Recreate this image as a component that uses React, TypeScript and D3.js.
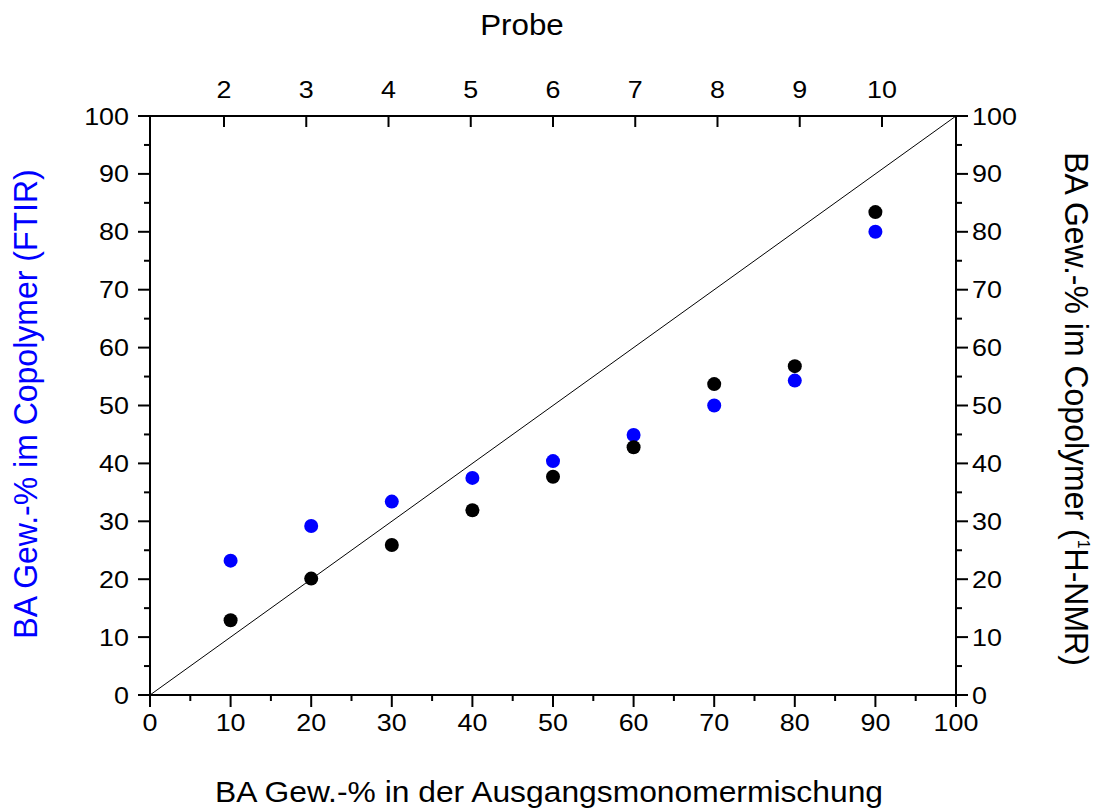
import React from "react";
import * as d3 from "d3";

const feedBA = [10, 20, 30, 40, 50, 60, 70, 80, 90];
const ftirBA = [23.2, 29.2, 33.4, 37.5, 40.4, 44.9, 50.0, 54.3, 80.0];
const nmrBA = [12.9, 20.1, 25.9, 31.9, 37.7, 42.8, 53.7, 56.8, 83.4];
const probeTicks = [2, 3, 4, 5, 6, 7, 8, 9, 10];
const xTicks = [0, 10, 20, 30, 40, 50, 60, 70, 80, 90, 100];
const yTicks = [0, 10, 20, 30, 40, 50, 60, 70, 80, 90, 100];

const FONT = "'Liberation Sans', Arial, Helvetica, sans-serif";
const TICK_FS = 24;
const SX = 1.12;

export default function App() {
  const L = 150, R = 956, T = 116, B = 695;
  const x = d3.scaleLinear().domain([0, 100]).range([L, R]);
  const y = d3.scaleLinear().domain([0, 100]).range([B, T]);
  const xp = d3.scaleLinear().domain([1.1, 10.9]).range([L, R]);
  const minorX = d3.range(5, 100, 10);
  const minorY = d3.range(5, 100, 10);
  const major = 12, minor = 6;
  const sw = 2;

  const label = (key: string, tx: number, ty: number, text: string, anchor: string) => (
    <g key={key} transform={`translate(${tx},${ty}) scale(${SX},1)`}>
      <text x={0} y={0} textAnchor={anchor} fontSize={TICK_FS} fontFamily={FONT} fill="#000">{text}</text>
    </g>
  );

  return (
    <svg width={1100} height={811} style={{ position: "absolute", left: 0, top: 0, background: "#fff" }}>
      <rect x={0} y={0} width={1100} height={811} fill="#fff" />
      {/* diagonal */}
      <line x1={x(0)} y1={y(0)} x2={x(100)} y2={y(100)} stroke="#000" strokeWidth={1} />
      {/* points */}
      {feedBA.map((v, i) => (
        <circle key={"b" + i} cx={x(v)} cy={y(ftirBA[i])} r={7} fill="#0000ff" />
      ))}
      {feedBA.map((v, i) => (
        <circle key={"k" + i} cx={x(v)} cy={y(nmrBA[i])} r={7} fill="#000" />
      ))}
      {/* frame */}
      <rect x={L} y={T} width={R - L} height={B - T} fill="none" stroke="#000" strokeWidth={sw} />
      {/* bottom ticks */}
      {xTicks.map(t => <line key={"xb" + t} x1={x(t)} x2={x(t)} y1={B} y2={B + major} stroke="#000" strokeWidth={sw} />)}
      {minorX.map(t => <line key={"xbm" + t} x1={x(t)} x2={x(t)} y1={B} y2={B + minor} stroke="#000" strokeWidth={sw} />)}
      {xTicks.map(t => label("xl" + t, x(t), B + 36, String(t), "middle"))}
      {/* left ticks */}
      {yTicks.map(t => <line key={"yl" + t} x1={L - major} x2={L} y1={y(t)} y2={y(t)} stroke="#000" strokeWidth={sw} />)}
      {minorY.map(t => <line key={"ylm" + t} x1={L - minor} x2={L} y1={y(t)} y2={y(t)} stroke="#000" strokeWidth={sw} />)}
      {yTicks.map(t => label("yll" + t, L - 21, y(t) + 8.5, String(t), "end"))}
      {/* right ticks */}
      {yTicks.map(t => <line key={"yr" + t} x1={R} x2={R + major} y1={y(t)} y2={y(t)} stroke="#000" strokeWidth={sw} />)}
      {minorY.map(t => <line key={"yrm" + t} x1={R} x2={R + minor} y1={y(t)} y2={y(t)} stroke="#000" strokeWidth={sw} />)}
      {yTicks.map(t => label("yrl" + t, R + 16, y(t) + 8.5, String(t), "start"))}
      {/* top probe ticks */}
      {probeTicks.map(t => <line key={"pt" + t} x1={xp(t)} x2={xp(t)} y1={T} y2={T + 11} stroke="#000" strokeWidth={sw} />)}
      {probeTicks.map(t => label("pl" + t, xp(t), 98, String(t), "middle"))}
      {/* titles */}
      <g transform={`translate(522,35) scale(1.08,1)`}>
        <text textAnchor="middle" fontSize={29} fontFamily={FONT} fill="#000">Probe</text>
      </g>
      <g transform={`translate(549,802) scale(1.06,1)`}>
        <text textAnchor="middle" fontSize={30} fontFamily={FONT} fill="#000">BA Gew.-% in der Ausgangsmonomermischung</text>
      </g>
      <g transform={`translate(37,404) scale(1.02,1) rotate(-90)`}>
        <text textAnchor="middle" fontSize={32} fontFamily={FONT} fill="#0000ff">BA Gew.-% im Copolymer (FTIR)</text>
      </g>
      <g transform={`translate(1065,409) scale(1.02,1) rotate(90)`}>
        <text textAnchor="middle" fontSize={32} fontFamily={FONT} fill="#000">
          BA Gew.-% im Copolymer (<tspan fontSize={16} dy={-13}>1</tspan><tspan dy={13}>H-NMR)</tspan>
        </text>
      </g>
    </svg>
  );
}
